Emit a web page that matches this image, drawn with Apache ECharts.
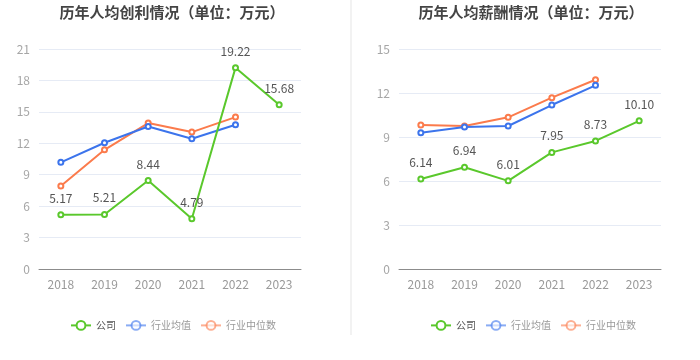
<!DOCTYPE html>
<html><head><meta charset="utf-8">
<script src="https://cdn.jsdelivr.net/npm/echarts@6/dist/echarts.min.js"></script>
<style>html,body{margin:0;padding:0;background:#fff}#c{width:700px;height:360px}</style>
</head><body><div id="c"></div>
<script>
const years = ['2018','2019','2020','2021','2022','2023'];
const profitCompany = [5.17, 5.21, 8.44, 4.79, 19.22, 15.68];
const profitAvg = [10.18, 12.05, 13.6, 12.43, 13.77, null];
const profitMedian = [7.92, 11.38, 13.93, 13.07, 14.5, null];
const salaryCompany = [6.14, 6.94, 6.01, 7.95, 8.73, 10.10];
const salaryAvg = [9.29, 9.68, 9.75, 11.18, 12.52, null];
const salaryMedian = [9.82, 9.75, 10.34, 11.68, 12.9, null];
const titles = ['历年人均创利情况（单位：万元）', '历年人均薪酬情况（单位：万元）'];

const GREEN = '#5ac82c', BLUE = '#3c74ec', ORANGE = '#fb7b4c';
const font = '"Noto Sans CJK SC", "Noto Sans", sans-serif';

function mkAxes(i, max, interval) {
  return {
    x: {type:'category', gridIndex:i, data:years, boundaryGap:true,
        axisLine:{lineStyle:{color:'#8c8c8c'}}, axisTick:{alignWithLabel:true, lineStyle:{color:'#8c8c8c'}},
        axisLabel:{color:'#999', fontSize:12, margin:9, fontFamily:font}},
    y: {type:'value', gridIndex:i, min:0, max:max, interval:interval,
        axisLine:{show:false}, axisTick:{show:false},
        axisLabel:{color:'#a6a6a6', fontSize:12, margin:9, fontFamily:font},
        splitLine:{lineStyle:{color:'#e6ebf5'}}}
  };
}
const a0 = mkAxes(0, 21, 3), a1 = mkAxes(1, 15, 3);

function line(name, data, color, idx, label) {
  return {
    name, type:'line', data, xAxisIndex:idx, yAxisIndex:idx,
    symbol:'emptyCircle', symbolSize:5, showAllSymbol:true,
    lineStyle:{color, width:2}, itemStyle:{color, borderWidth:1.5},
    label: label ? {show:true, position:'top', color:'#555', fontSize:12, distance:7, fontFamily:font,
                    formatter:p=>p.value.toFixed(2)} : {show:false},
    z: label ? 5 : 3
  };
}

function legend(left) {
  return {
    left, top:315, itemWidth:20, itemHeight:11, itemGap:9,
    textStyle:{fontSize:10, fontFamily:font, color:'#999', padding:[0,0,0,0]},
    data:[
      {name:'公司', textStyle:{color:'#555'}},
      {name:'行业均值', itemStyle:{opacity:0.6}, lineStyle:{opacity:0.6}},
      {name:'行业中位数', itemStyle:{opacity:0.6}, lineStyle:{opacity:0.6}}
    ]
  };
}

const chart = echarts.init(document.getElementById('c'), null, {renderer:'canvas'});
chart.setOption({
  animation:false,
  title:[
    {text:titles[0], left:167, top:0, textAlign:'center', textStyle:{fontSize:15, fontWeight:'bold', color:'#444', fontFamily:font}},
    {text:titles[1], left:526, top:0, textAlign:'center', textStyle:{fontSize:15, fontWeight:'bold', color:'#444', fontFamily:font}}
  ],
  legend:[legend(65), legend(425)],
  grid:[
    {left:39, top:49, width:262, height:220},
    {left:399, top:49, width:262, height:220}
  ],
  xAxis:[a0.x, a1.x],
  yAxis:[a0.y, a1.y],
  graphic:[{type:'rect', shape:{x:350, y:0, width:2, height:335}, style:{fill:'#f2f2f2'}, silent:true}],
  series:[
    line('行业中位数', profitMedian, ORANGE, 0, false),
    line('行业均值', profitAvg, BLUE, 0, false),
    line('公司', profitCompany, GREEN, 0, true),
    line('行业中位数', salaryMedian, ORANGE, 1, false),
    line('行业均值', salaryAvg, BLUE, 1, false),
    line('公司', salaryCompany, GREEN, 1, true)
  ]
});
</script></body></html>
